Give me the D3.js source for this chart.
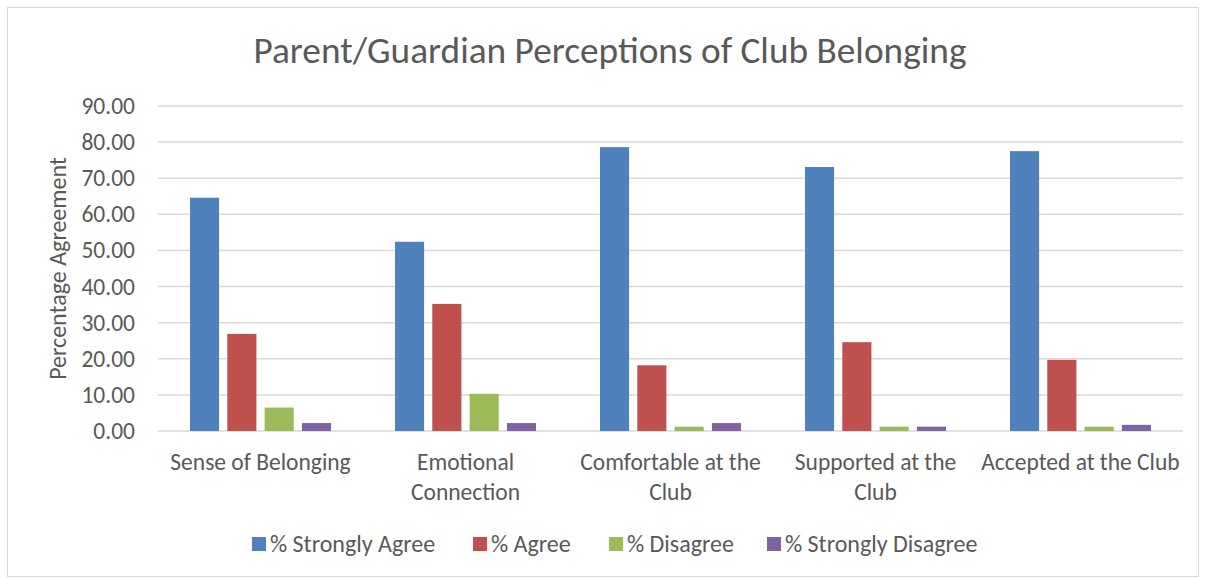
<!DOCTYPE html>
<html>
<head>
<meta charset="utf-8">
<script src="https://cdn.jsdelivr.net/npm/d3@7"></script>
<style>
  body { margin: 0; background: #fff; }
  text { font-family: Carlito, Calibri, Lato, "Liberation Sans", sans-serif; fill: #595959; }
</style>
</head>
<body>
<svg width="1209" height="579"></svg>
<script>
var categories = ["Sense of Belonging", "Emotional Connection", "Comfortable at the Club", "Supported at the Club", "Accepted at the Club"];
var categoryLines = [["Sense of Belonging"], ["Emotional", "Connection"], ["Comfortable at the", "Club"], ["Supported at the", "Club"], ["Accepted at the Club"]];
var seriesNames = ["% Strongly Agree", "% Agree", "% Disagree", "% Strongly Disagree"];
var stronglyAgree = [64.6, 52.4, 78.6, 73.1, 77.5];
var agree = [26.9, 35.2, 18.2, 24.6, 19.7];
var disagree = [6.5, 10.3, 1.2, 1.2, 1.2];
var stronglyDisagree = [2.2, 2.2, 2.2, 1.2, 1.7];
var yTicks = [0, 10, 20, 30, 40, 50, 60, 70, 80, 90];
var colors = ["#4f81bd", "#c0504d", "#9bbb59", "#8064a2"];

var series = [stronglyAgree, agree, disagree, stronglyDisagree];

function draw() {
  var svg = d3.select("svg");
  var plotL = 158, plotR = 1183, plotT = 106, plotB = 431;

  // chart frame
  svg.append("rect")
     .attr("x", 7.5).attr("y", 7.5)
     .attr("width", 1191).attr("height", 569)
     .attr("fill", "none").attr("stroke", "#d9d9d9");

  svg.append("text")
     .attr("x", 610).attr("y", 63)
     .attr("text-anchor", "middle")
     .style("font-size", "37.3px")
     .text("Parent/Guardian Perceptions of Club Belonging");

  var y = d3.scaleLinear().domain([0, 90]).range([plotB, plotT]);
  var x0 = d3.scaleBand().domain(categories).range([plotL, plotR]);
  var x1 = d3.scaleBand().domain(seriesNames)
      .range([32, x0.bandwidth() - 32]).paddingInner(0.22);

  // gridlines
  svg.append("g").selectAll("line")
     .data(yTicks)
     .enter().append("line")
     .attr("x1", plotL).attr("x2", plotR)
     .attr("y1", function(d) { return y(d); })
     .attr("y2", function(d) { return y(d); })
     .attr("stroke", "#d9d9d9").attr("stroke-width", 1.5);

  svg.append("g").selectAll("text")
     .data(yTicks)
     .enter().append("text")
     .attr("x", 135)
     .attr("y", function(d) { return y(d) + 8; })
     .attr("text-anchor", "end")
     .style("font-size", "23.5px")
     .text(function(d) { return d.toFixed(2); });

  svg.append("text")
     .attr("transform", "translate(66," + ((plotT + plotB) / 2) + ") rotate(-90)")
     .attr("text-anchor", "middle")
     .style("font-size", "24px")
     .text("Percentage Agreement");

  // bars
  var groups = svg.append("g").selectAll("g")
     .data(categories)
     .enter().append("g")
     .attr("transform", function(d) { return "translate(" + x0(d) + ",0)"; });

  groups.selectAll("rect")
     .data(function(d, i) {
       return series.map(function(s, j) { return {name: seriesNames[j], value: s[i], c: colors[j]}; });
     })
     .enter().append("rect")
     .attr("x", function(d) { return x1(d.name); })
     .attr("width", x1.bandwidth())
     .attr("y", function(d) { return y(d.value); })
     .attr("height", function(d) { return plotB - y(d.value); })
     .attr("fill", function(d) { return d.c; });

  // x labels
  var xl = svg.append("g").selectAll("text")
     .data(categories)
     .enter().append("text")
     .attr("text-anchor", "middle")
     .style("font-size", "23.5px")
     .attr("x", function(d) { return x0(d) + x0.bandwidth() / 2; })
     .attr("y", 470);
  xl.selectAll("tspan")
     .data(function(d, i) { return categoryLines[i]; })
     .enter().append("tspan")
     .attr("x", function() { return d3.select(this.parentNode).attr("x"); })
     .attr("dy", function(d, i) { return i == 0 ? 0 : 30; })
     .text(function(d) { return d; });

  // legend
  var legendX = [252, 473, 609, 767];
  var legendG = svg.selectAll(".legend")
     .data(seriesNames)
     .enter().append("g")
     .attr("class", "legend")
     .attr("transform", function(d, i) { return "translate(" + legendX[i] + ",537)"; });
  legendG.append("rect")
     .attr("width", 14).attr("height", 14)
     .attr("fill", function(d, i) { return colors[i]; });
  legendG.append("text")
     .attr("x", 18).attr("y", 15)
     .style("font-size", "24px")
     .text(function(d) { return d; });
}
draw();
</script>
</body>
</html>
